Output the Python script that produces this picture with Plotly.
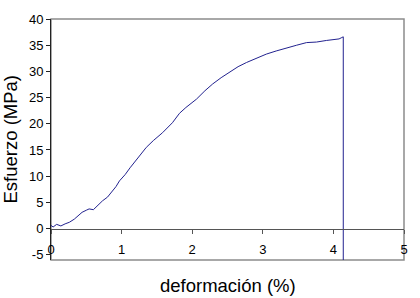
import plotly.graph_objects as go

# strain (%) and stress (MPa)
deformacion = [0.00, 0.03, 0.08, 0.14, 0.20, 0.26, 0.33, 0.40, 0.44, 0.50, 0.54, 0.60, 0.66,
               0.73, 0.80, 0.87, 0.92, 0.97, 1.05, 1.12, 1.20, 1.28, 1.35, 1.45, 1.58,
               1.72, 1.82, 1.91, 2.06, 2.18, 2.29, 2.41, 2.53, 2.65, 2.77, 2.90, 3.05,
               3.19, 3.33, 3.48, 3.62, 3.76, 3.90, 4.00, 4.08, 4.11, 4.14, 4.14]
esfuerzo = [0.6, 0.3, 0.8, 0.5, 0.9, 1.2, 1.8, 2.6, 3.1, 3.5, 3.75, 3.6, 4.4,
            5.3, 6.0, 7.2, 8.0, 9.1, 10.3, 11.6, 13.0, 14.3, 15.5, 16.8, 18.3,
            20.2, 22.0, 23.1, 24.7, 26.3, 27.6, 28.8, 29.8, 30.9, 31.7, 32.5, 33.3,
            33.9, 34.5, 35.0, 35.5, 35.6, 35.9, 36.0, 36.2, 36.4, 36.6, -6.0]

x_ticks = [0, 1, 2, 3, 4, 5]
y_ticks = [-5, 0, 5, 10, 15, 20, 25, 30, 35, 40]

y_min, y_max = -6, 40
x_axis_pos = (0 - y_min) / (y_max - y_min)

fig = go.Figure()
fig.add_trace(go.Scatter(
    x=deformacion, y=esfuerzo, mode="lines",
    line=dict(color="#22228f", width=1), showlegend=False,
))

font_family = "Liberation Sans, Arial, sans-serif"

fig.update_layout(
    width=420, height=298,
    margin=dict(l=51, r=16, t=19, b=38),
    paper_bgcolor="white", plot_bgcolor="white",
    font=dict(family=font_family, color="black", size=13),
    xaxis=dict(
        range=[0, 5], tickvals=x_ticks, ticktext=[str(v) for v in x_ticks],
        showgrid=False, zeroline=False, showline=True, linecolor="#555555", linewidth=1,
        ticks="outside", ticklen=4, tickcolor="#555555", ticklabelstandoff=5,
        anchor="free", position=x_axis_pos,
        tickfont=dict(size=13, family=font_family),
    ),
    yaxis=dict(
        range=[y_min, y_max], tickvals=y_ticks, ticktext=[str(v) for v in y_ticks],
        showgrid=False, zeroline=False, showline=True, linecolor="#222222", linewidth=1,
        ticks="outside", ticklen=4, tickcolor="#222222",
        tickfont=dict(size=13, family=font_family),
    ),
    shapes=[dict(type="rect", xref="x domain", yref="y domain", x0=0, x1=1, y0=0, y1=1,
                 line=dict(color="#8c8c8c", width=1.5), fillcolor="rgba(0,0,0,0)", layer="below")],
    annotations=[
        dict(text="deformación (%)", xref="paper", yref="paper", x=0.5, y=0.0,
             yshift=-25, xanchor="center", yanchor="middle", showarrow=False,
             font=dict(size=18.5, family=font_family)),
        dict(text="Esfuerzo (MPa)", xref="paper", yref="paper", x=0, y=0.5,
             xshift=-41, textangle=-90, xanchor="center", yanchor="middle", showarrow=False,
             font=dict(size=18.5, family=font_family)),
    ],
)

fig.write_html("out.html", config={"displayModeBar": False},
               post_script="document.body.style.margin='0';document.body.style.padding='0';")
